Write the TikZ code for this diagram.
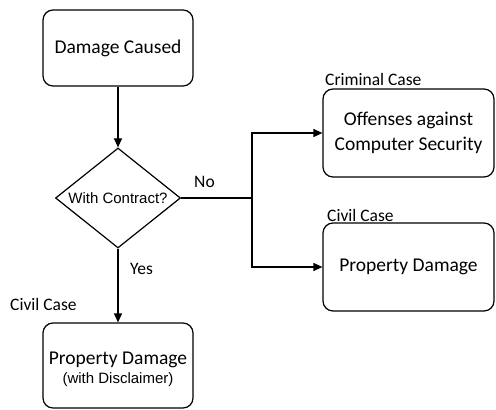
\documentclass[tikz,border=0pt]{standalone}
\usepackage{fontspec}
\setmainfont{Carlito}
\newfontfamily\arialf{Liberation Sans}
\usetikzlibrary{shapes.geometric,arrows.meta}
\begin{document}
\begin{tikzpicture}[x=1pt,y=-1pt,
  box/.style={draw,line width=1.2pt,rounded corners=10pt,align=center,font=\fontsize{19.5}{24}\selectfont,inner sep=0pt},
  lbl/.style={font=\fontsize{17.5}{20}\selectfont,inner sep=0pt},
  conn/.style={line width=1.2pt,-{Triangle[length=9pt,width=8pt]}},
  plain/.style={line width=1.2pt}]
\useasboundingbox (0,0) rectangle (496,410);
\node[box,minimum width=150pt,minimum height=76pt] (dc) at (118,48) {Damage Caused};
\node[draw,line width=1.2pt,diamond,aspect=1.25,minimum width=125pt,minimum height=100pt,inner sep=0pt] (wc) at (118,198) {};
\node[font=\arialf\fontsize{15}{18}\selectfont,inner sep=0pt] (wct) at (118,198) {With Contract?};
\node[box,minimum width=150pt,minimum height=85pt] (pdd) at (118,365.5) {};
\node[align=center,inner sep=0pt,font=\fontsize{19.5}{24}\selectfont] (pddt) at (118,369) {Property Damage\\[-5pt]{\arialf\fontsize{15}{18}\selectfont(with Disclaimer)}};
\node[box,minimum width=171pt,minimum height=88pt] (ocs) at (408.5,133) {Offenses against\\[1pt]Computer Security};
\node[box,minimum width=171pt,minimum height=88pt] (pd) at (408.5,267) {Property Damage};
\coordinate (j) at (252,198);
\draw[conn] (dc) -- (wc);
\draw[conn] (wc) -- (pdd);
\draw[plain] (wc.east) -- (j);
\draw[conn] (j) |- (ocs.west);
\draw[conn] (j) |- (pd.west);
\node[lbl,anchor=west] (no) at (194,182) {No};
\node[lbl,anchor=west] (yes) at (130,269) {Yes};
\node[lbl,anchor=west] (cc1) at (10,304) {Civil Case};
\node[lbl,anchor=west] (crc) at (325,79) {Criminal Case};
\node[lbl,anchor=west] (cc2) at (327,215) {Civil Case};
\end{tikzpicture}
\end{document}
